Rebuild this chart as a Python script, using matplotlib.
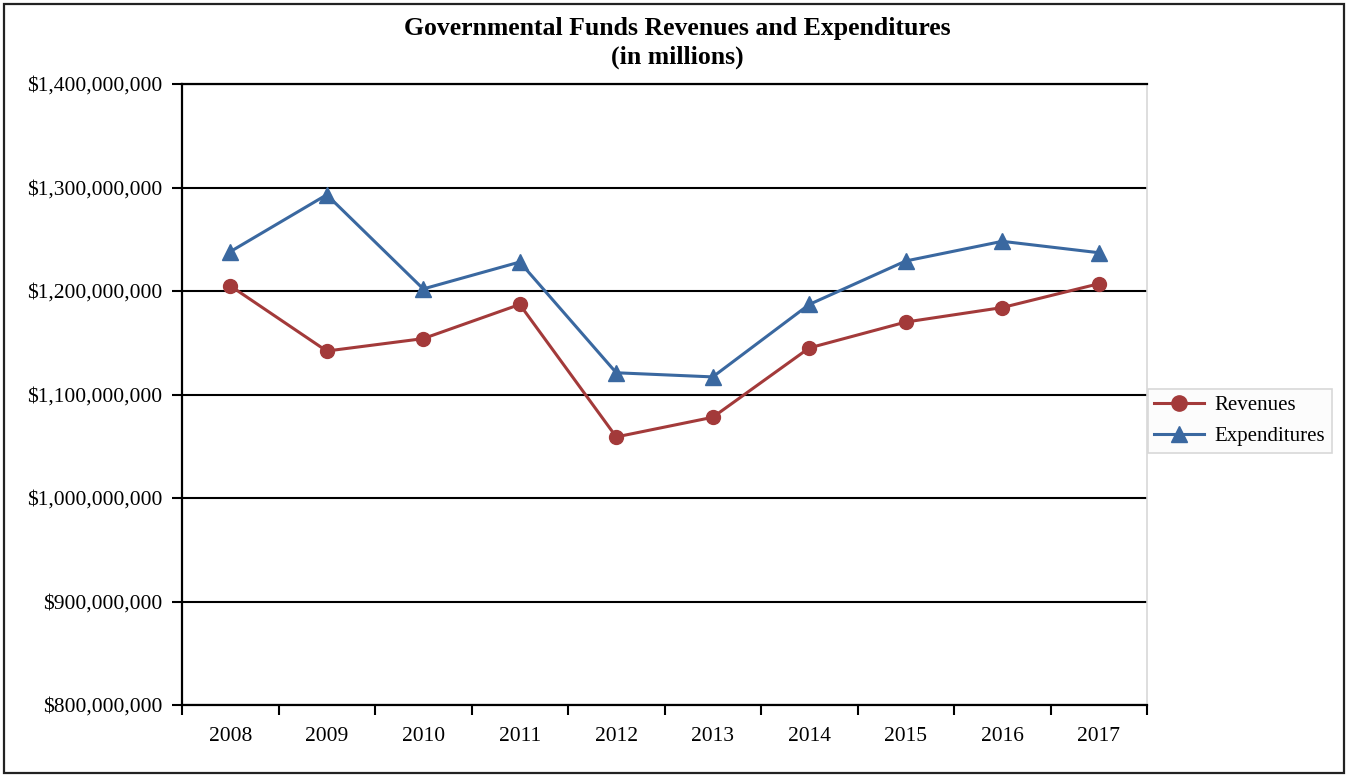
import matplotlib.pyplot as plt
from matplotlib.patches import Rectangle
from matplotlib.ticker import FuncFormatter

years = ['2008', '2009', '2010', '2011', '2012', '2013', '2014', '2015', '2016', '2017']
revenues = [1205e6, 1142e6, 1154e6, 1187e6, 1059e6, 1078e6, 1145e6, 1170e6, 1184e6, 1207e6]
expenditures = [1238e6, 1293e6, 1202e6, 1228e6, 1121e6, 1117e6, 1187e6, 1229e6, 1248e6, 1237e6]

plt.rcParams['font.family'] = ['Liberation Serif', 'DejaVu Serif']

fig = plt.figure(figsize=(13.48, 7.76), dpi=100)
ax = fig.add_axes([182/1348, 1-705/776, (1147-182)/1348, (705-84)/776])

# outer frame
fig.patches.append(Rectangle((4/1348, 3/776), 1340/1348, 769/776, transform=fig.transFigure,
                             fill=False, edgecolor='#222222', linewidth=1.6))

x = range(len(years))
ax.plot(x, revenues, color='#A33A3A', linewidth=2.2, marker='o', markersize=10, label='Revenues')
ax.plot(x, expenditures, color='#3A68A0', linewidth=2.2, marker='^', markersize=11, label='Expenditures')

ax.set_xlim(-0.5, len(years) - 0.5)
ax.set_ylim(800e6, 1400e6)
ax.set_yticks([800e6 + i * 100e6 for i in range(7)])
ax.yaxis.set_major_formatter(FuncFormatter(lambda v, p: '${:,.0f}'.format(v)))
ax.grid(axis='y', color='black', linewidth=1.5)
ax.set_axisbelow(True)

ax.set_xticks([i - 0.5 for i in range(len(years) + 1)])
ax.set_xticklabels([])
ax.set_xticks(list(x), minor=True)
ax.set_xticklabels(years, minor=True)
ax.tick_params(axis='x', which='major', direction='out', length=7, width=1.5, color='black')
ax.tick_params(axis='x', which='minor', length=0, pad=16, labelsize=15.5)
ax.tick_params(axis='y', direction='out', length=7, width=1.5, labelsize=15.5, pad=7)

for s in ['left', 'bottom', 'top']:
    ax.spines[s].set_color('black')
    ax.spines[s].set_linewidth(1.6)
ax.spines['right'].set_color('#d8d8d8')
ax.spines['right'].set_linewidth(1.2)

fig.text(677/1348, 1-28/776, 'Governmental Funds Revenues and Expenditures', ha='center', va='center',
         fontsize=18.5, fontweight='bold')
fig.text(677/1348, 1-57/776, '(in millions)', ha='center', va='center', fontsize=18.5, fontweight='bold')

leg = fig.legend(loc='center left', bbox_to_anchor=(1148/1348, 1-421/776), fontsize=15,
                 frameon=True, fancybox=False, edgecolor='#d8d8d8', facecolor='#fcfcfc',
                 framealpha=1, handlelength=2.4, borderpad=0.3, labelspacing=0.55,
                 borderaxespad=0, handletextpad=0.5, markerscale=1.1)
leg.get_frame().set_linewidth(1.2)

fig.savefig('out.png', dpi=100)
